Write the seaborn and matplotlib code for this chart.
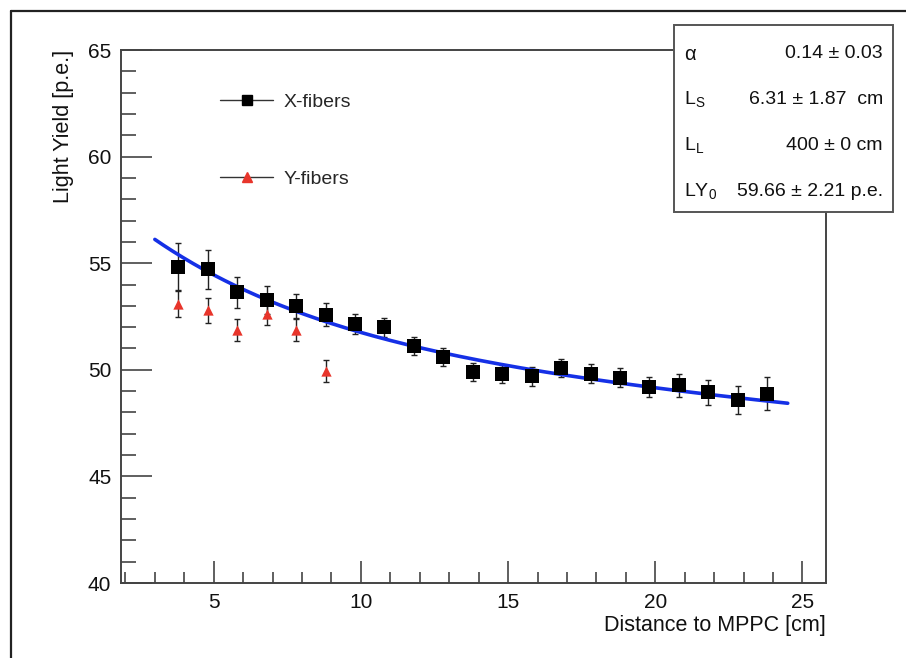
import numpy as np
import pandas as pd
import matplotlib
matplotlib.use("Agg")
import matplotlib.pyplot as plt
from matplotlib.lines import Line2D
from matplotlib.patches import Rectangle
from matplotlib.ticker import MultipleLocator
import seaborn as sns

# ---------------- data ----------------
x_fib_pos = [3.8, 4.8, 5.8, 6.8, 7.8, 8.8, 9.8, 10.8, 11.8, 12.8, 13.8,
             14.8, 15.8, 16.8, 17.8, 18.8, 19.8, 20.8, 21.8, 22.8, 23.8]
x_fib_ly = [54.84, 54.71, 53.63, 53.27, 52.99, 52.59, 52.16, 52.00, 51.13, 50.59, 49.91,
            49.82, 49.69, 50.07, 49.82, 49.63, 49.18, 49.27, 48.94, 48.58, 48.88]
x_fib_err = [1.11, 0.93, 0.73, 0.66, 0.58, 0.53, 0.48, 0.45, 0.43, 0.42, 0.42,
             0.42, 0.43, 0.43, 0.45, 0.46, 0.47, 0.53, 0.59, 0.67, 0.77]

y_fib_pos = [3.8, 4.8, 5.8, 6.8, 7.8, 8.8]
y_fib_ly = [53.07, 52.79, 51.87, 52.60, 51.85, 49.96]
y_fib_err = [0.61, 0.58, 0.52, 0.52, 0.51, 0.52]

# fit parameters (as shown in the stats box)
fit_alpha = 0.14
fit_Ls = 6.31
fit_Ll = 400.0
fit_LY0 = 59.66
fit_range = [3.0, 24.5]

stat_names = ["α", r"L$_\mathregular{S}$", r"L$_\mathregular{L}$", r"LY$_\mathregular{0}$"]
stat_values = ["0.14 ± 0.03", "6.31 ± 1.87  cm", "400 ± 0 cm", "59.66 ± 2.21 p.e."]

xlabel = "Distance to MPPC [cm]"
ylabel = "Light Yield [p.e.]"
legend_labels = ["X-fibers", "Y-fibers"]

# ---------------- style ----------------
sns.set_theme(style="white")
plt.rcParams["font.family"] = ["Liberation Sans", "DejaVu Sans"]
plt.rcParams["mathtext.fontset"] = "custom"
plt.rcParams["mathtext.rm"] = "Liberation Sans"

W, H = 906, 658
fig = plt.figure(figsize=(W / 100, H / 100), dpi=100)
fig.patch.set_facecolor("white")

L, R, T, B = 121, 826, 50, 583
ax = fig.add_axes([L / W, 1 - B / H, (R - L) / W, (B - T) / H])
ax.set_facecolor("white")

df_x = pd.DataFrame({"pos": x_fib_pos, "ly": x_fib_ly, "err": x_fib_err})
df_y = pd.DataFrame({"pos": y_fib_pos, "ly": y_fib_ly, "err": y_fib_err})

# fit curve from the fit model and its parameters
xf = np.linspace(fit_range[0], fit_range[1], 300)
yf = fit_LY0 * (fit_alpha * np.exp(-xf / fit_Ls) + (1 - fit_alpha) * np.exp(-xf / fit_Ll))
df_fit = pd.DataFrame({"pos": xf, "ly": yf})

# error bars
ax.errorbar(df_x["pos"], df_x["ly"], yerr=df_x["err"], fmt="none", ecolor="#222222",
            elinewidth=1.0, capsize=2.5, capthick=1.0, zorder=2)
ax.errorbar(df_y["pos"], df_y["ly"], yerr=df_y["err"], fmt="none", ecolor="#222222",
            elinewidth=1.0, capsize=2.5, capthick=1.0, zorder=2)

sns.lineplot(data=df_fit, x="pos", y="ly", color="#1530e6", linewidth=2.6, ax=ax, zorder=3)

sns.scatterplot(data=df_x, x="pos", y="ly", marker="s", s=100, color="black",
                edgecolor="black", linewidth=0, ax=ax, zorder=4)
sns.scatterplot(data=df_y, x="pos", y="ly", marker="^", s=55, color="#e8352b",
                edgecolor="#e8352b", linewidth=0, ax=ax, zorder=4)

ax.set_xlim(1.85, 25.8)
ax.set_ylim(40, 65)
ax.xaxis.set_major_locator(MultipleLocator(5))
ax.xaxis.set_minor_locator(MultipleLocator(1))
ax.yaxis.set_major_locator(MultipleLocator(5))
ax.yaxis.set_minor_locator(MultipleLocator(1))
ax.tick_params(axis="x", which="major", direction="in", length=16, width=1.2,
               color="#444444", labelsize=15, pad=7, bottom=True, top=False,
               labelcolor="#111111")
ax.tick_params(axis="x", which="minor", direction="in", length=8, width=1.2,
               color="#444444", bottom=True, top=False)
ax.tick_params(axis="y", which="major", direction="in", length=22, width=1.2,
               color="#444444", labelsize=15, pad=7, left=True, right=False,
               labelcolor="#111111")
ax.tick_params(axis="y", which="minor", direction="in", length=11, width=1.2,
               color="#444444", left=True, right=False)
for sp in ax.spines.values():
    sp.set_color("#444444")
    sp.set_linewidth(1.4)

ax.set_xlabel(xlabel, fontsize=15.5, ha="right", x=1.0, labelpad=2, color="#111111")
ax.set_ylabel(ylabel, fontsize=15.5, ha="right", y=1.0, labelpad=10, color="#111111")

# legend (no frame)
handles = [
    Line2D([0], [0], color="#333333", lw=1.0, marker="s", markersize=6.5,
           markerfacecolor="black", markeredgecolor="black"),
    Line2D([0], [0], color="#333333", lw=1.0, marker="^", markersize=6.5,
           markerfacecolor="#e8352b", markeredgecolor="#e8352b"),
]
ax.legend(handles, legend_labels, loc="upper left",
          bbox_to_anchor=((220 - L) / (R - L), (B - 93) / (B - T)),
          frameon=False, fontsize=14, handlelength=2.75, handletextpad=0.5,
          labelspacing=3.05, borderpad=0, borderaxespad=0)

# stats box
bx0, bx1, by0, by1 = 674, 893, 25, 212
fig.add_artist(Rectangle((bx0 / W, 1 - by1 / H), (bx1 - bx0) / W, (by1 - by0) / H,
                         transform=fig.transFigure, facecolor="white",
                         edgecolor="#555555", linewidth=1.4, zorder=10))
rows_y = [52, 97, 143, 189]
for name, val, yy in zip(stat_names, stat_values, rows_y):
    fig.text(684 / W, 1 - yy / H, name, fontsize=14.5 if name == "α" else 14,
             ha="left", va="center_baseline", zorder=11, color="#111111")
    fig.text(883 / W, 1 - yy / H, val, fontsize=14, ha="right", va="center_baseline",
             zorder=11, color="#111111")

# outer frame
fig.add_artist(Line2D([10.5 / W, 10.5 / W], [0, 1 - 10.5 / H], transform=fig.transFigure,
                      color="#222222", lw=1.6))
fig.add_artist(Line2D([10.5 / W, 1], [1 - 10.5 / H, 1 - 10.5 / H], transform=fig.transFigure,
                      color="#222222", lw=1.6))

fig.savefig("out.png", dpi=100)
